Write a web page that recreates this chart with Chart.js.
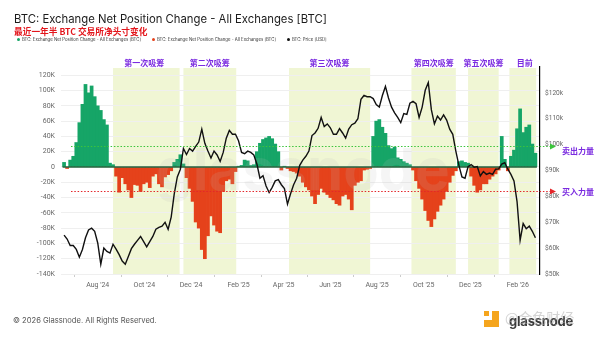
<!DOCTYPE html>
<html><head><meta charset="utf-8">
<script src="https://cdn.jsdelivr.net/npm/chart.js@4.4.1/dist/chart.umd.min.js"></script>
<style>
html,body{margin:0;padding:0;background:#fff;width:600px;height:338px;overflow:hidden;}
#wrap{position:relative;width:600px;height:338px;}
canvas{position:absolute;left:0;top:0;}
.t{position:absolute;white-space:nowrap;}
#title{left:14px;top:12px;font:400 11.3px Inter,sans-serif;color:#1b1b1b;}
#sub{left:14px;top:24.5px;font:700 8.7px "Noto Sans CJK SC",sans-serif;color:#e3161c;}
.lg{position:absolute;top:37px;font:400 4.3px Inter,sans-serif;color:#333;white-space:nowrap;}
.lg i{display:inline-block;width:3px;height:3px;border-radius:50%;margin-right:2px;vertical-align:middle;}
#foot{left:13px;top:316px;font:400 7.6px Inter,sans-serif;color:#555;}
.logo{position:absolute;background:#f5a51d;}
#gn{left:509px;top:313px;font:700 13px Inter,sans-serif;color:#3a3a3a;letter-spacing:-0.2px;}
#wm{left:505px;top:307px;font:400 14px "Noto Sans CJK SC",sans-serif;color:rgba(170,170,170,0.5);}
</style></head>
<body><div id="wrap">
<canvas id="c" width="600" height="338"></canvas>
<div class="t" id="title">BTC: Exchange Net Position Change - All Exchanges [BTC]</div>
<div class="t" id="sub">最近一年半 BTC 交易所净头寸变化</div>
<div class="lg" style="left:17px"><i style="background:#16a567"></i>BTC: Exchange Net Position Change - All Exchanges [BTC]</div>
<div class="lg" style="left:152px"><i style="background:#e5421b"></i>BTC: Exchange Net Position Change - All Exchanges [BTC]</div>
<div class="lg" style="left:287px"><i style="background:#111"></i>BTC: Price [USD]</div>
<div class="t" id="foot">© 2026 Glassnode. All Rights Reserved.</div>
<div class="logo" style="left:484px;top:311px;width:5px;height:5px"></div>
<div class="logo" style="left:492px;top:311px;width:7px;height:16px"></div>
<div class="logo" style="left:484px;top:320px;width:15px;height:7px"></div>
<div class="t" id="gn">glassnode</div>
<div class="t" id="wm">@金色财经</div>
</div>
<script>
// ---- data ----
const START_DATE = '2024-06-18';
const STEP_DAYS = 4;
// Exchange net position change, thousands of BTC
const netChangeK = [
 6, -2, 9, 14, 32, 58, 82, 108, 97, 106,
 92, 80, 74, 62, 55, 5, 3, -12, -33, -14,
 -22, -30, -40, -23, -24, -32, -22, -20, -27, -12,
 -9, -22, -26, -13, -10, -5, 6, 10, 16, 4,
 -14, -28, -45, -72, -80, -108, -120, -90, -64, -76,
 -84, -86, -32, -18, -16, -22, -6, 1, 2, 9,
 8, 2, 3, 20, 31, 36, 38, 40, 37, 30,
 20, -4, 1, -2, -5, -6, -8, -12, -20, -26,
 -30, -38, -48, -36, -28, -33, -36, -40, -43, -48,
 -50, -38, -36, -42, -56, -24, -20, -18, -4, -3,
 -2, 40, 60, 62, 52, 44, 28, 24, 26, 12,
 10, 7, 5, 3, -4, -18, -28, -42, -57, -70,
 -78, -68, -58, -50, -42, -32, -20, -11, -5, 7,
 8, 6, 5, -12, -24, -33, -30, -22, -22, -16,
 -12, -9, -4, 40, 10, -5, 14, 22, 50, 76,
 45, 52, 55, 30, 18
];
// BTC price, thousands of USD
const priceK = [
 65.0, 63.5, 61.0, 61.0, 59.5, 56.5, 59.5, 64.0, 67.0, 67.7,
 66.5, 62.0, 53.8, 60.0, 58.7, 58.1, 61.5, 59.6, 57.5, 55.0,
 53.8, 56.8, 59.8, 61.5, 63.0, 64.5, 62.5, 60.5, 62.5, 64.5,
 67.3, 68.0, 68.5, 70.0, 67.3, 72.0, 81.0, 87.5, 90.5, 98.5,
 96.2, 98.5, 97.5, 99.3, 101.0, 106.0, 100.5, 97.5, 94.8, 97.5,
 96.0, 93.5, 97.0, 102.5, 105.5, 104.0, 104.0, 101.5, 97.0, 96.5,
 97.5, 97.0, 96.0, 92.5, 87.0, 88.0, 84.0, 81.5, 83.5, 86.0,
 86.5, 84.5, 83.0, 77.0, 81.0, 84.5, 87.0, 92.0, 94.0, 95.5,
 97.5, 103.5, 104.5, 106.3, 110.5, 107.0, 108.0, 106.5, 104.0, 104.0,
 106.2, 104.5, 102.5, 106.0, 107.7, 108.3, 110.0, 117.5, 119.0, 118.5,
 118.5, 117.8, 115.5, 114.5, 119.0, 122.5, 118.0, 114.5, 112.3, 110.5,
 108.5, 112.0, 111.7, 116.0, 116.7, 115.8, 110.5, 114.5, 121.0, 124.0,
 113.5, 108.0, 111.0, 109.5, 111.5, 109.5, 106.0, 104.0, 97.5, 92.0,
 87.5, 87.0, 91.5, 92.3, 91.3, 91.5, 87.9, 89.6, 88.5, 89.0,
 88.5, 90.5, 90.6, 92.5, 93.0, 90.5, 88.5, 86.0, 78.0, 63.0,
 69.5, 67.5, 68.5, 66.5, 64.0
];
const leftTicks = [-140,-120,-100,-80,-60,-40,-20,0,20,40,60,80,100,120];
const rightTicks = [50,60,70,80,90,100,110,120];
const monthTicks = ['2024-08-01','2024-10-01','2024-12-01','2025-02-01','2025-04-01','2025-06-01','2025-08-01','2025-10-01','2025-12-01','2026-02-01'];
const monthLabels = ["Aug '24","Oct '24","Dec '24","Feb '25","Apr '25","Jun '25","Aug '25","Oct '25","Dec '25","Feb '26"];
const phaseLabels = ['第一次吸筹','第二次吸筹','第三次吸筹','第四次吸筹','第五次吸筹','目前'];
const phaseStart = ['2024-08-21','2024-11-21','2025-04-08','2025-09-15','2025-11-28','2026-01-21'];
const phaseEnd   = ['2024-11-16','2025-01-29','2025-07-23','2025-11-12','2026-01-07','2026-02-25'];
const levelValuesK = [27, -31];
const levelLabels = ['卖出力量','买入力量'];

// ---- helpers ----
const DAY = 864e5;
const t0 = Date.parse(START_DATE);
const dayOf = d => (Date.parse(d) - t0) / DAY;
const days = netChangeK.map((_, i) => i * STEP_DAYS);

const GREEN = '#16a567', RED = '#e5421b', PURPLE = '#7b2be0';
const levelColors = ['#3cc43c', '#e3262a'];

const overlay = {
  id: 'overlay',
  beforeDraw(chart) {
    const {ctx, chartArea: ca, scales: {x}} = chart;
    ctx.save();
    ctx.fillStyle = '#f0f6d4';
    phaseStart.forEach((s, i) => {
      const x0 = x.getPixelForValue(dayOf(s)), x1 = x.getPixelForValue(dayOf(phaseEnd[i]));
      ctx.fillRect(x0, ca.top + 1, x1 - x0, ca.bottom - ca.top - 1);
    });
    ctx.fillStyle = PURPLE;
    ctx.font = 'bold 8px "Noto Sans CJK SC"';
    ctx.textAlign = 'center'; ctx.textBaseline = 'middle';
    phaseLabels.forEach((l, i) => {
      const x0 = x.getPixelForValue(dayOf(phaseStart[i])), x1 = x.getPixelForValue(dayOf(phaseEnd[i]));
      ctx.fillText(l, (x0 + x1) / 2 + (i === 5 ? 2 : (i === 0 ? -2 : 0)), ca.top - 4.5);
    });
    ctx.restore();
  },
  afterDatasetDraw(chart, args) {
    if (args.meta.type !== 'bar') return;
    const {ctx, scales: {x, y}} = chart;
    ctx.save();
    // watermark
    ctx.fillStyle = 'rgba(185,185,185,0.15)';
    ctx.font = 'bold 58px Inter';
    ctx.textAlign = 'center'; ctx.textBaseline = 'alphabetic';
    ctx.fillText('glassnode', 303, 190);
    // zero line
    const yz = y.getPixelForValue(0);
    ctx.strokeStyle = '#22603a'; ctx.lineWidth = 1.5;
    ctx.beginPath();
    ctx.moveTo(x.getPixelForValue(days[0]) - 1.5, yz);
    ctx.lineTo(x.getPixelForValue(days[days.length - 1]) + 1.5, yz);
    ctx.stroke();
    ctx.restore();
  },
  afterDraw(chart) {
    const {ctx, scales: {y}} = chart;
    ctx.save();
    levelValuesK.forEach((v, i) => {
      const yy = Math.round(y.getPixelForValue(v)) + 0.5;
      ctx.strokeStyle = levelColors[i]; ctx.lineWidth = 1.1;
      ctx.setLineDash([1.5, 1.8]);
      ctx.beginPath(); ctx.moveTo(71, yy); ctx.lineTo(551, yy); ctx.stroke();
      ctx.setLineDash([]);
      ctx.fillStyle = levelColors[i];
      ctx.beginPath(); ctx.moveTo(550, yy - 3); ctx.lineTo(556, yy); ctx.lineTo(550, yy + 3); ctx.closePath(); ctx.fill();
      ctx.fillStyle = PURPLE;
      ctx.font = 'bold 8px "Noto Sans CJK SC"';
      ctx.textAlign = 'left'; ctx.textBaseline = 'middle';
      ctx.fillText(levelLabels[i], 562, yy + (i === 0 ? 4 : 0));
    });
    ctx.restore();
  }
};

new Chart(document.getElementById('c'), {
  data: {
    datasets: [
      {
        type: 'line', label: 'BTC: Price [USD]', yAxisID: 'yR', order: 0,
        data: days.map((d, i) => ({x: d, y: priceK[i]})),
        borderColor: '#111', borderWidth: 1.4, pointRadius: 0, tension: 0
      },
      {
        type: 'bar', label: 'BTC: Exchange Net Position Change - All Exchanges [BTC]', yAxisID: 'y', order: 1,
        data: days.map((d, i) => ({x: d, y: netChangeK[i]})),
        backgroundColor: ctx => (ctx.raw && ctx.raw.y < 0) ? RED : GREEN,
        borderWidth: 0, barPercentage: 1, categoryPercentage: 1
      }
    ]
  },
  options: {
    responsive: false, animation: false, devicePixelRatio: 1,
    layout: {padding: {top: 67, bottom: 44, left: 0, right: 0}},
    plugins: {legend: {display: false}, tooltip: {enabled: false}},
    scales: {
      x: {
        type: 'linear', min: -4, max: 622, offset: false,
        afterBuildTicks: s => { s.ticks = monthTicks.map(d => ({value: dayOf(d)})); },
        afterFit: s => { s.height = 20; },
        ticks: {callback: (v, i) => monthLabels[i], autoSkip: false, maxRotation: 0, color: '#666', font: {family: 'Roboto', size: 7}, padding: 4},
        grid: {drawOnChartArea: false, drawTicks: true, tickLength: 3, color: '#ccc'},
        border: {display: false}
      },
      y: {
        position: 'left', min: -140, max: 130.8,
        afterBuildTicks: s => { s.ticks = leftTicks.map(v => ({value: v})); },
        afterFit: s => { s.width = 61; },
        ticks: {callback: v => v === 0 ? '0' : v + 'K', color: '#666', font: {family: 'Roboto', size: 7}, padding: 6},
        grid: {color: '#efefef', lineWidth: 1, drawTicks: false},
        border: {display: false}
      },
      yR: {
        position: 'right', min: 50, max: 130,
        afterBuildTicks: s => { s.ticks = rightTicks.map(v => ({value: v})); },
        afterFit: s => { s.width = 60; },
        ticks: {callback: v => '$' + v + 'k', color: '#666', font: {family: 'Roboto', size: 6.6}, padding: 5},
        grid: {display: false, drawTicks: false},
        border: {display: true, color: '#000', width: 1.2}
      }
    }
  },
  plugins: [overlay]
});
</script>
</body></html>
